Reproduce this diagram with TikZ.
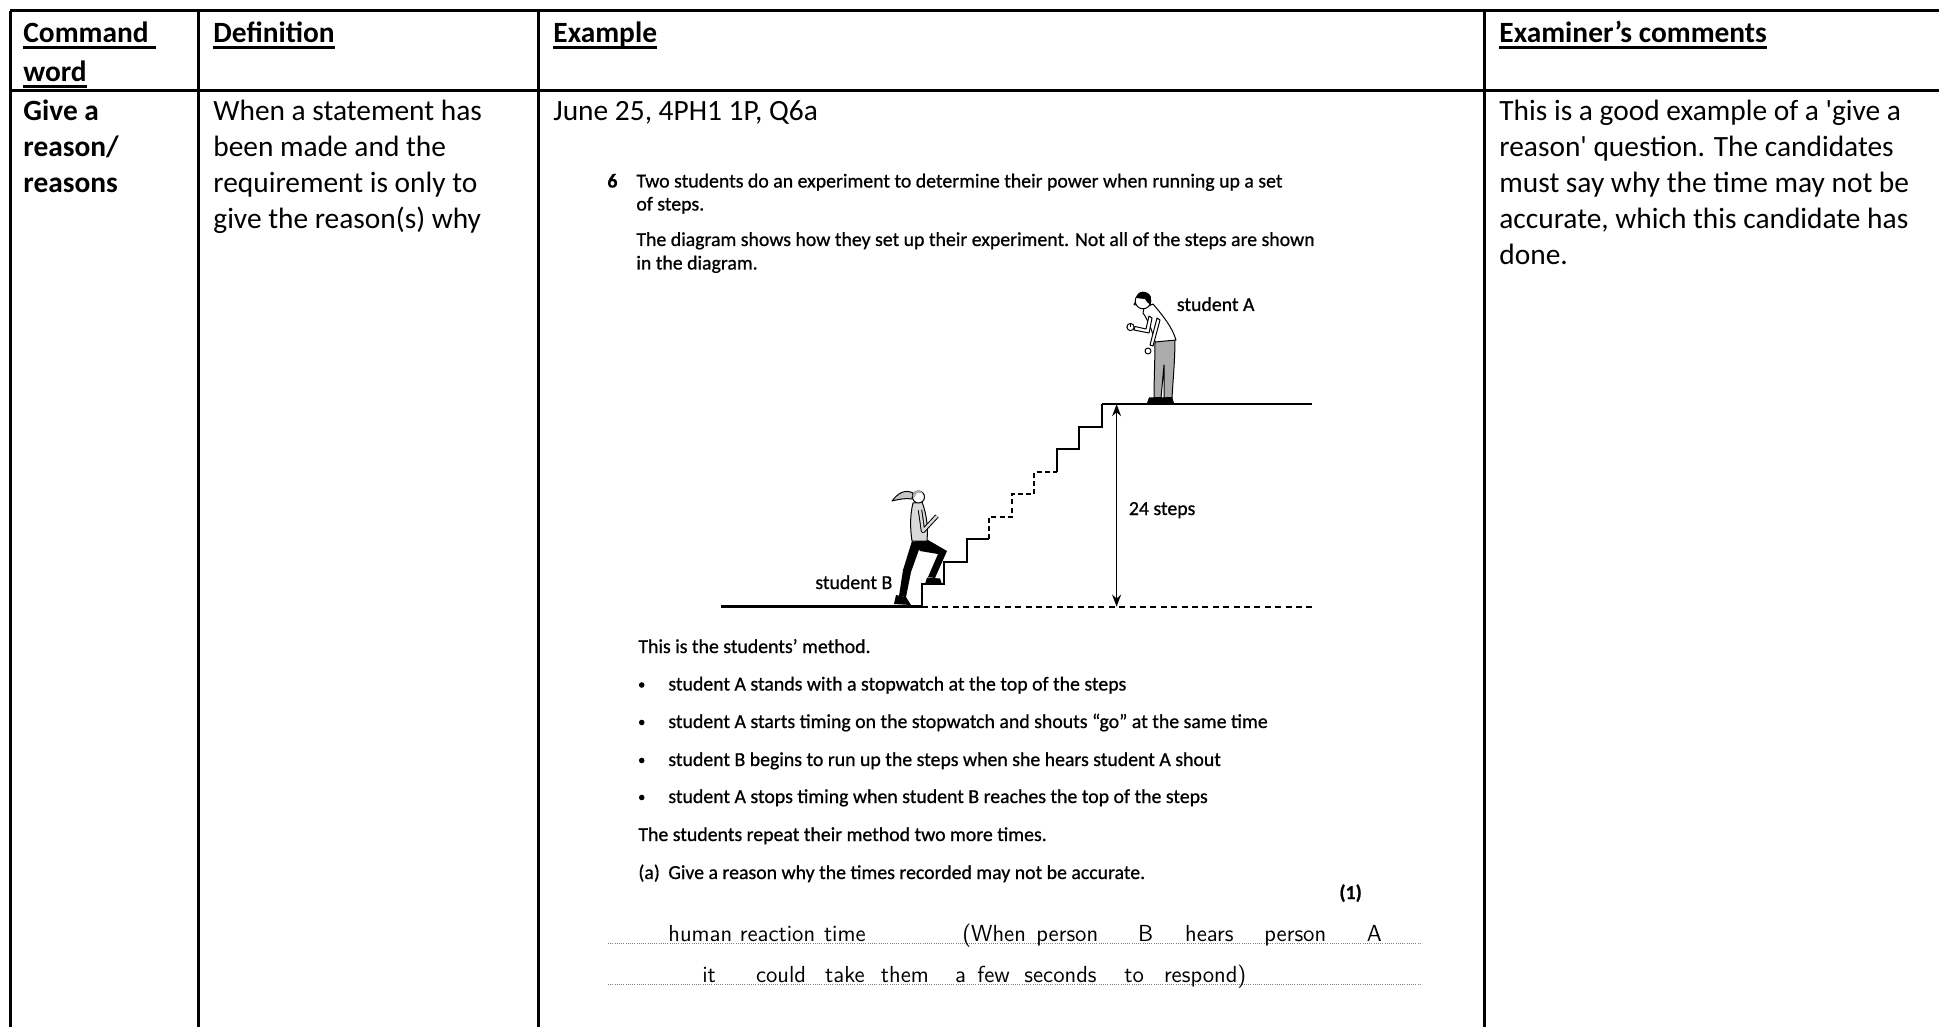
\documentclass[tikz,border=0pt]{standalone}
\usepackage{fontspec}
\setmainfont{Carlito}
\newfontfamily\examfont{Carlito}[FakeBold=0.8]
\newfontfamily\nolig{Carlito}[Ligatures=TeXOff]
\usetikzlibrary{arrows.meta}
\begin{document}
\begin{tikzpicture}[x=0.5pt,y=-0.5pt,
  grid/.style={line width=1.5pt},
  hdr/.style={anchor=base west,inner sep=0pt,font=\fontsize{14.7}{18}\selectfont\bfseries},
  body/.style={anchor=base west,inner sep=0pt,font=\fontsize{14.7}{18}\selectfont},
  bodyb/.style={anchor=base west,inner sep=0pt,font=\fontsize{14.7}{18}\selectfont\bfseries},
  ex/.style={anchor=base west,inner sep=0pt,font=\examfont\fontsize{9.9}{11}\selectfont},
  exb/.style={anchor=base west,inner sep=0pt,font=\examfont\fontsize{9.9}{11}\selectfont\bfseries},
  hand/.style={anchor=base west,inner sep=0pt,font=\sffamily\fontsize{11.6}{14}\selectfont},
  bul/.style={circle,fill,inner sep=0pt,minimum size=2.8pt},
  ulin/.style={line width=1.3pt},
  stair/.style={line width=1pt},
  dots/.style={line width=0.5pt,gray,dash pattern=on 0.5pt off 0.6pt},
  fig/.style={line width=0.5pt,line join=round}
]
\useasboundingbox (0,0) rectangle (1939,1027);
% ---------- table grid
\draw[grid] (10,11) -- (1939,11);
\draw[grid] (10,90.5) -- (1939,90.5);
\draw[grid] (10,11) -- (10,1027);
\draw[grid] (198,11) -- (198,1027);
\draw[grid] (538.5,11) -- (538.5,1027);
\draw[grid] (1484.5,11) -- (1484.5,1027);
% ---------- headers
\node[hdr] (hCmd) at (23,42.5) {Command};
\node[hdr] (hWord) at (23,81.5) {word};
\node[hdr] (hDef) at (213,42.5) {Definition};
\node[hdr] (hEx) at (553,42.5) {Example};
\node[hdr] (hCom) at (1499,42.5) {Examiner’s comments};
\draw[ulin] ([yshift=-2.6pt]hCmd.base west) -- ([yshift=-2.6pt,xshift=3.5pt]hCmd.base east);
\draw[ulin] ([yshift=-2.6pt]hWord.base west) -- ([yshift=-2.6pt]hWord.base east);
\draw[ulin] ([yshift=-2.6pt]hDef.base west) -- ([yshift=-2.6pt]hDef.base east);
\draw[ulin] ([yshift=-2.6pt]hEx.base west) -- ([yshift=-2.6pt]hEx.base east);
\draw[ulin] ([yshift=-2.6pt]hCom.base west) -- ([yshift=-2.6pt]hCom.base east);
% ---------- column 1
\node[bodyb] (c1a) at (23,121) {Give a};
\node[bodyb] (c1b) at (23,157) {reason/};
\node[bodyb] (c1c) at (23,193) {reasons};
% ---------- column 2
\node[body] (c2a) at (213,121) {When a statement has};
\node[body] (c2b) at (213,157) {been made and the};
\node[body] (c2c) at (213,193) {requirement is only to};
\node[body] (c2d) at (213,229) {give the reason(s) why};
% ---------- column 4
\node[body] (c4a) at (1499,121) {This is a good example of a {\nolig '}give a};
\node[body] (c4b) at (1499,157) {reason{\nolig '} question. The candidates};
\node[body] (c4c) at (1499,193) {must say why the time may not be};
\node[body] (c4d) at (1499,229) {accurate, which this candidate has};
\node[body] (c4e) at (1499,265) {done.};
% ---------- column 3
\node[body] (c3a) at (553,121) {June 25, 4PH1 1P, Q6a};
\node[exb] (q6) at (607,187.5) {6};
\node[ex] (q1) at (636,187.5) {Two students do an experiment to determine their power when running up a set};
\node[ex] (q2) at (636,210.5) {of steps.};
\node[ex] (q3) at (636,246) {The diagram shows how they set up their experiment. Not all of the steps are shown};
\node[ex] (q4) at (636,269.5) {in the diagram.};
% stairs
\coordinate (g0) at (721,606.6);
\coordinate (s0) at (921.6,606.6);
\coordinate (gEnd) at (1312,606.6);
\coordinate (pTop) at (1102,404.2);
\coordinate (pEnd) at (1312,404.2);
\draw[line width=1.2pt] (g0) -- (s0);
\draw[line width=1.1pt,dash pattern=on 3pt off 2.2pt] (s0) -- (gEnd);
\draw[stair] (s0) -- (921.6,584.1) -- (944.1,584.1) -- (944.1,561.6) -- (966.7,561.6) -- (966.7,539.1) -- (989.2,539.1);
\draw[stair,dash pattern=on 2.5pt off 1.6pt] (989.2,539.1) -- (989.2,516.7) -- (1011.8,516.7) -- (1011.8,494.2) -- (1034.3,494.2) -- (1034.3,471.7) -- (1056.9,471.7);
\draw[stair] (1056.9,471.7) -- (1056.9,449.2) -- (1079.4,449.2) -- (1079.4,426.7) -- (1102,426.7) -- (pTop);
\draw[line width=1.2pt] (pTop) -- (pEnd);
\coordinate (arrTop) at (1116.6,404.2);
\coordinate (arrBot) at (1116.6,606.6);
\draw[line width=0.7pt,{Stealth[length=6pt,width=4.5pt]}-{Stealth[length=6pt,width=4.5pt]}] (arrBot) -- (arrTop);
\node[ex] (lSteps) at (1128.5,515) {24 steps};
\node[ex] (lA) at (1176.5,311) {student A};
\node[ex] (lB) at (815,589) {student B};
% student A figure
\begin{scope}[fig]
\filldraw[fill=gray!65] (1155,340) -- (1175,338) .. controls (1175,360) and (1173,380) .. (1172,398) -- (1164,398) -- (1164,365) -- (1161,398) -- (1154,398) .. controls (1154,380) and (1155,360) .. (1155,340) -- cycle;
\fill[black] (1147,403) -- (1149,397.5) -- (1161,397) -- (1162,403) -- cycle;
\fill[black] (1158,403) -- (1160,397.5) -- (1172,397) -- (1174,403) -- cycle;
\filldraw[fill=white] (1144,308) -- (1153,304) .. controls (1164,317) and (1172,327) .. (1176,340) -- (1155,342) .. controls (1152,330) and (1148,320) .. (1143,313) -- cycle;
\filldraw[fill=white] (1157,318) -- (1160,320) -- (1153,346) -- (1150,345) -- cycle;
\filldraw[fill=white] (1148,351) circle (3);
\filldraw[fill=white] (1149,316) -- (1152,318) -- (1149,333) -- (1134,330) -- (1135,326.5) -- (1146,329) -- cycle;
\filldraw[fill=white] (1130.5,327) circle (3.6);
\draw (1130.5,327) -- (1130.5,324);
\filldraw[fill=white] (1143,301) circle (7.8);
\fill[black] (1136.5,298) .. controls (1136.5,290) and (1148,289.5) .. (1151,297) -- (1150.5,305) -- (1147,302) -- (1145,299) -- (1140,298.5) -- cycle;
\draw (1135.5,302) -- (1134,304.5) -- (1136,305);
\end{scope}
% student B figure
\begin{scope}[fig]
\filldraw[fill=gray!45] (913,493) .. controls (905,489) and (898,493) .. (892,501) .. controls (900,499) and (906,498) .. (912,499) -- cycle;
\fill[black] (912,541) -- (921,544) -- (911,572) -- (906,597) -- (899,596) -- (903,570) -- cycle;
\fill[black] (914,540) -- (928,540) -- (947,551) -- (935,578) -- (928,577) -- (938,554) -- (920,551) -- cycle;
\fill[black] (927,577.5) -- (940,578.5) -- (942,584.1) -- (925,584.1) -- cycle;
\fill[black] (896,595) -- (906,597) -- (911,605) -- (894,604) -- cycle;
\filldraw[fill=gray!30] (913,503) -- (922,502) .. controls (927,515) and (928,528) .. (927,541) -- (912,541) .. controls (910,528) and (910,515) .. (913,503) -- cycle;
\draw[line width=2.2pt] (920,510) -- (923,531) -- (937,516);
\draw[line width=1.2pt,gray!30] (920,510) -- (923,531) -- (937,516);
\filldraw[fill=white] (918.5,497) circle (6);
\fill[gray!60] (912.5,496) .. controls (913,490) and (920,489) .. (923,493) -- (917,493) -- (914,498) -- cycle;
\end{scope}
% method text
\node[ex] (m0) at (638,653) {This is the students’ method.};
\node[bul] (b1) at (641.7,685) {};
\node[ex] (m1) at (668,690.5) {student A stands with a stopwatch at the top of the steps};
\node[bul] (b2) at (641.7,722.5) {};
\node[ex] (m2) at (668,728) {student A starts timing on the stopwatch and shouts “go” at the same time};
\node[bul] (b3) at (641.7,760.5) {};
\node[ex] (m3) at (668,766) {student B begins to run up the steps when she hears student A shout};
\node[bul] (b4) at (641.7,797.5) {};
\node[ex] (m4) at (668,803) {student A stops timing when student B reaches the top of the steps};
\node[ex] (m5) at (638,841) {The students repeat their method two more times.};
\node[ex] (qa) at (638,879) {(a)};
\node[ex] (qat) at (668,879) {Give a reason why the times recorded may not be accurate.};
\node[exb] (mk) at (1339,899) {(1)};
% answer lines
\coordinate (l1s) at (608,943);
\coordinate (l1e) at (1420,943);
\coordinate (l2s) at (608,984);
\coordinate (l2e) at (1420,984);
\draw[dots] (l1s) -- (l1e);
\draw[dots] (l2s) -- (l2e);
\node[hand] (hw1a) at (668,941) {human};
\node[hand] (hw1b) at (739.5,941) {reaction};
\node[hand] (hw1c) at (823.6,941) {time};
\node[hand] (hw1d) at (962,941) {(When};
\node[hand] (hw1e) at (1036,941) {person};
\node[hand] (hw1f) at (1137.7,941) {B};
\node[hand] (hw1g) at (1184.7,941) {hears};
\node[hand] (hw1h) at (1264,941) {person};
\node[hand] (hw1i) at (1366.5,941) {A};
\node[hand] (hw2a) at (702,982) {it};
\node[hand] (hw2b) at (755.6,982) {could};
\node[hand] (hw2c) at (824.8,982) {take};
\node[hand] (hw2d) at (880.5,982) {them};
\node[hand] (hw2e) at (954.7,982) {a};
\node[hand] (hw2f) at (977,982) {few};
\node[hand] (hw2g) at (1024,982) {seconds};
\node[hand] (hw2h) at (1124,982) {to};
\node[hand] (hw2i) at (1163.6,982) {respond)};
\end{tikzpicture}
\end{document}
